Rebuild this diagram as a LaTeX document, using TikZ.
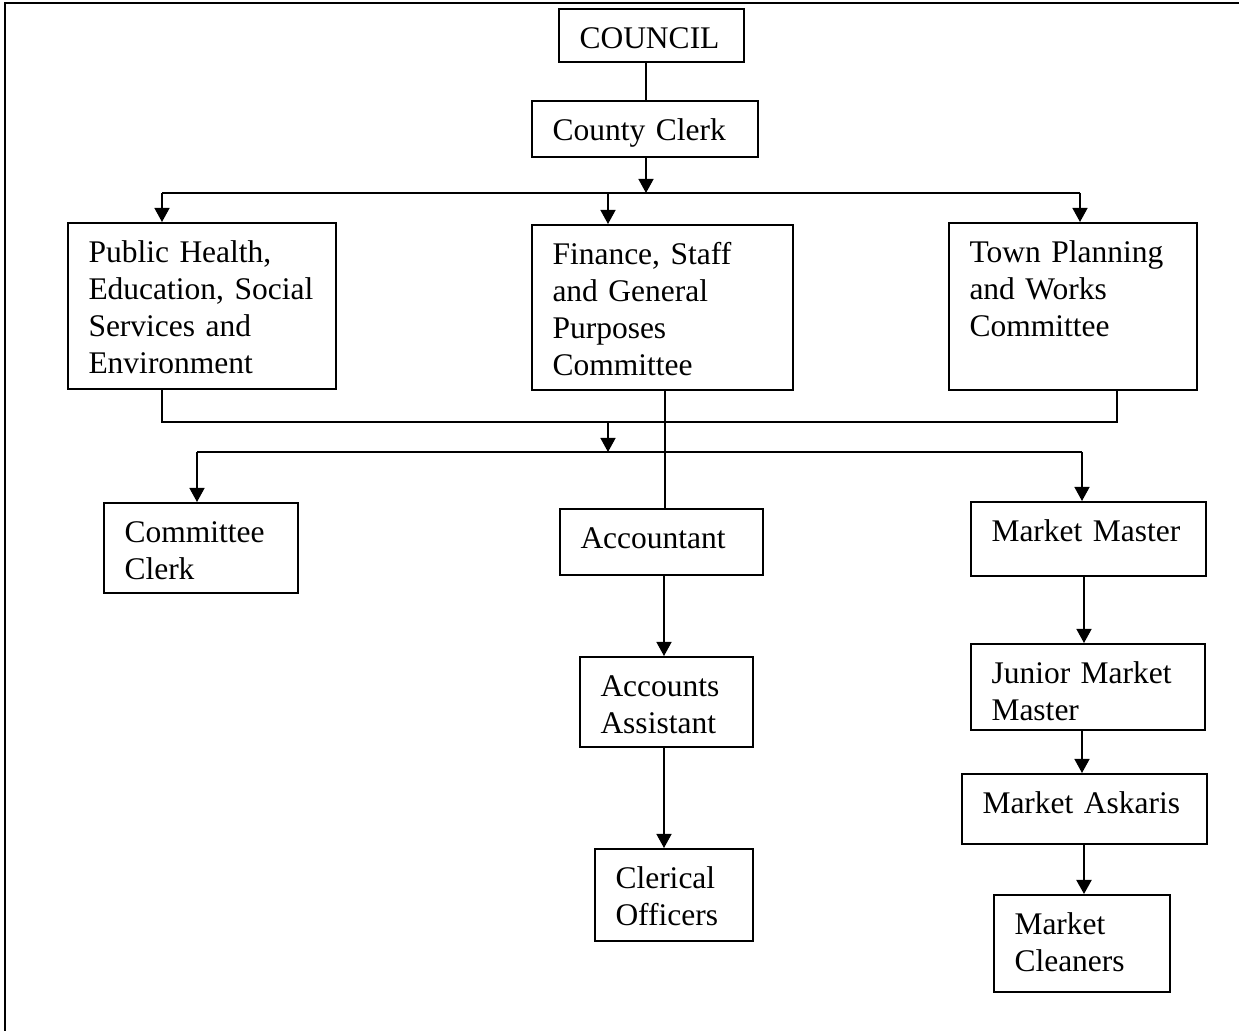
\documentclass[tikz,border=0pt]{standalone}
\usepackage{fontspec}
\setmainfont{Liberation Serif}
\usetikzlibrary{arrows.meta,calc}
\tikzset{
  orgbox/.style={draw, line width=1pt, align=left, inner ysep=0pt, inner xsep=10.25pt,
    anchor=north west, font=\fontsize{15.75}{18.35}\selectfont, text height=20pt},
  conn/.style={line width=0.7pt},
  arr/.style={conn, -{Triangle[length=7pt,width=7.5pt]}},
  frameline/.style={line width=1pt},
}
\newcommand\mkbox[6]{%
  \pgfmathsetmacro\bxw{(#4-#2)*0.5-20.5}%
  \pgfmathsetmacro\bxd{(#5-#3)*0.5-20}%
  \node[orgbox, text width=\bxw pt, text depth=\bxd pt] (#1) at (#2,#3) {#6};%
}
\begin{document}
\begin{tikzpicture}[x=0.5pt,y=-0.5pt]
\useasboundingbox (0,0) rectangle (1239,1031);
\draw[frameline] (5,1031) -- (5,3) -- (1239,3);

\mkbox{council}{558}{8}{743}{61}{COUNCIL}
\mkbox{clerk}{531}{100}{757}{156}{County~Clerk}
\mkbox{ph}{67}{222}{335}{388}{Public~Health,\\Education,~Social\\Services~and\\Environment}
\mkbox{fin}{531}{224}{792}{389}{Finance,~Staff\\and~General\\Purposes\\Committee}
\mkbox{town}{948}{222}{1196}{389}{Town~Planning\\and~Works\\Committee}
\mkbox{cclerk}{103}{502}{297}{592}{Committee\\Clerk}
\mkbox{acc}{559}{508}{762}{574}{Accountant}
\mkbox{mm}{970}{501}{1205}{575}{Market~Master}
\mkbox{aa}{579}{656}{752}{746}{Accounts\\Assistant}
\mkbox{co}{594}{848}{752}{940}{Clerical\\Officers}
\mkbox{jmm}{970}{643}{1204}{729}{Junior~Market\\Master}
\mkbox{ma}{961}{773}{1206}{843}{Market~Askaris}
\mkbox{mc}{993}{894}{1169}{991}{Market\\Cleaners}

% junctions
\coordinate (j1) at (646,193);
\coordinate (b1l) at (162,193);
\coordinate (b1m) at (608,193);
\coordinate (b1r) at (1080,193);
\coordinate (b2l) at (162,422);
\coordinate (b2m) at (608,422);
\coordinate (b2r) at (1117,422);
\coordinate (b3l) at (197,452);
\coordinate (b3m) at (608,452);
\coordinate (b3r) at (1082,452);
\coordinate (fx) at (665,452);
\coordinate (ax) at (664,600);
\coordinate (mx) at (1084,600);
\coordinate (mx2) at (1082,600);

\draw[conn] (council.south -| j1) -- (clerk.north -| j1);
\draw[arr] (clerk.south -| j1) -- (j1);
\draw[conn] (b1l) -- (b1r);
\draw[arr] (b1l) -- (b1l |- ph.north);
\draw[arr] (b1m) -- (b1m |- fin.north);
\draw[arr] (b1r) -- (b1r |- town.north);

\draw[conn] (ph.south -| b2l) -- (b2l) -- (b2r) -- (town.south -| b2r);
\draw[conn] (fin.south -| fx) -- (acc.north -| fx);
\draw[arr] (b2m) -- (b3m);
\draw[conn] (b3l) -- (b3r);
\draw[arr] (b3l) -- (b3l |- cclerk.north);
\draw[arr] (b3r) -- (b3r |- mm.north);

\draw[arr] (acc.south -| ax) -- (aa.north -| ax);
\draw[arr] (aa.south -| ax) -- (co.north -| ax);
\draw[arr] (mm.south -| mx) -- (jmm.north -| mx);
\draw[arr] (jmm.south -| mx2) -- (ma.north -| mx2);
\draw[arr, line width=1pt] (ma.south -| mx) -- (mc.north -| mx);
\end{tikzpicture}
\end{document}
